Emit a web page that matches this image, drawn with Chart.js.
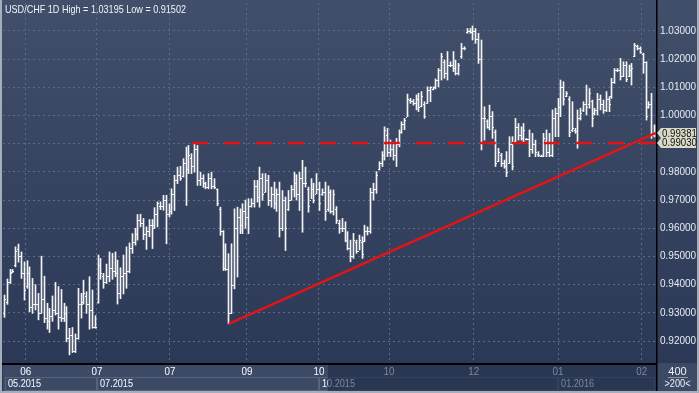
<!DOCTYPE html>
<html>
<head>
<meta charset="utf-8">
<script src="https://cdn.jsdelivr.net/npm/chart.js@4.4.1/dist/chart.umd.min.js"></script>
<style>
  html, body { margin: 0; padding: 0; background: #2b3955; overflow: hidden; }
  canvas { display: block; }
</style>
</head>
<body>
<canvas id="chart" width="699" height="393"></canvas>
<script>
// USD/CHF 1D, values (one entry per daily bar)
const highs = [
  0.9363,0.9420,0.9454,0.9454,0.9534,0.9544,0.9516,0.9481,0.9485,0.9463,0.9422,0.9400,0.9369,0.9501,0.9430,0.9334,0.9316,0.9360,0.9408,0.9393,
  0.9383,0.9334,0.9322,0.9245,0.9248,0.9225,0.9387,0.9369,0.9416,0.9375,0.9428,0.9381,0.9290,0.9505,0.9493,0.9440,0.9473,0.9516,0.9511,0.9516,
  0.9487,0.9460,0.9505,0.9534,0.9548,0.9581,0.9600,0.9649,0.9650,0.9635,0.9605,0.9631,0.9631,0.9673,0.9694,0.9694,0.9717,
  0.9717,0.9687,0.9740,0.9788,0.9817,0.9820,0.9847,0.9888,0.9894,0.9865,0.9900,0.9894,0.9799,0.9790,0.9764,0.9794,0.9799,0.9776,0.9740,0.9675,
  0.9592,0.9545,0.9510,0.9545,0.9669,0.9675,0.9669,0.9687,0.9700,0.9705,0.9705,0.9770,0.9770,0.9817,0.9794,0.9794,0.9788,0.9746,0.9764,0.9740,
  0.9764,0.9734,0.9711,0.9734,0.9752,0.9799,0.9790,0.9799,0.9841,0.9817,0.9746,0.9776,0.9760,0.9794,0.9764,0.9740,0.9764,0.9750,
  0.9736,0.9736,0.9677,0.9629,0.9635,0.9623,0.9588,0.9558,0.9582,0.9558,0.9576,0.9570,0.9611,0.9605,0.9742,0.9760,0.9801,0.9836,0.9872,0.9960,
  0.9955,0.9913,0.9901,0.9919,0.9949,0.9978,0.9990,1.0076,1.0061,1.0057,1.0073,1.0079,1.0085,1.0049,1.0102,1.0102,1.0102,1.0130,1.0167,1.0221,
  1.0197,1.0227,1.0191,1.0227,1.0197,1.0185,1.0256,1.0244,1.0309,1.0309,1.0318,1.0309,1.0292,1.0268,1.0031,0.9985,1.0037,1.0014,
  0.9949,0.9884,0.9866,0.9842,0.9872,0.9925,0.9925,0.9990,0.9972,0.9960,0.9972,0.9919,0.9949,0.9937,0.9913,0.9872,0.9860,0.9937,0.9949,0.9937,
  1.0020,1.0026,1.0061,1.0126,1.0120,1.0085,1.0067,1.0049,0.9955,1.0020,1.0026,1.0049,1.0108,1.0096,1.0055,1.0026,1.0079,1.0073,1.0055,1.0085,
  1.0067,1.0132,1.0167,1.0167,1.0203,1.0191,1.0191,1.0179,1.0185,1.0256,1.0250,1.0244,1.0221,1.0191,1.0049,1.0079,0.9967
];
const lows = [
  0.9284,0.9330,0.9404,0.9442,0.9463,0.9480,0.9422,0.9345,0.9387,0.9304,0.9298,0.9310,0.9275,0.9298,0.9265,0.9242,0.9230,0.9270,0.9292,0.9242,
  0.9269,0.9269,0.9197,0.9151,0.9159,0.9159,0.9206,0.9281,0.9331,0.9298,0.9242,0.9245,0.9245,0.9334,0.9419,0.9387,0.9404,0.9410,0.9419,0.9428,
  0.9331,0.9350,0.9367,0.9387,0.9442,0.9511,0.9540,0.9558,0.9605,0.9560,0.9525,0.9570,0.9528,0.9599,0.9605,0.9666,0.9664,
  0.9545,0.9640,0.9650,0.9663,0.9758,0.9770,0.9782,0.9681,0.9794,0.9794,0.9799,0.9752,0.9752,0.9745,0.9740,0.9740,0.9740,0.9740,0.9680,0.9575,
  0.9450,0.9450,0.9261,0.9297,0.9385,0.9427,0.9581,0.9581,0.9600,0.9581,0.9675,0.9675,0.9693,0.9675,0.9699,0.9728,0.9681,0.9675,0.9669,0.9660,
  0.9569,0.9592,0.9521,0.9663,0.9699,0.9711,0.9700,0.9663,0.9586,0.9746,0.9657,0.9705,0.9690,0.9722,0.9663,0.9717,0.9628,0.9660,
  0.9653,0.9647,0.9617,0.9582,0.9588,0.9552,0.9523,0.9481,0.9493,0.9511,0.9523,0.9493,0.9552,0.9576,0.9582,0.9700,0.9724,0.9807,0.9819,0.9842,
  0.9854,0.9854,0.9842,0.9819,0.9889,0.9937,0.9950,0.9996,1.0043,1.0037,1.0020,1.0014,1.0031,0.9990,1.0043,1.0049,1.0091,1.0095,1.0102,1.0126,
  1.0132,1.0126,1.0173,1.0156,1.0144,1.0144,1.0203,1.0233,1.0292,1.0292,1.0268,1.0256,1.0185,0.9878,0.9913,0.9955,0.9949,0.9919,
  0.9819,0.9836,0.9819,0.9813,0.9783,0.9830,0.9807,0.9901,0.9913,0.9913,0.9901,0.9913,0.9854,0.9866,0.9854,0.9854,0.9854,0.9854,0.9854,0.9854,
  0.9854,0.9925,0.9925,0.9996,1.0037,1.0067,0.9925,0.9943,0.9937,0.9884,0.9984,1.0014,1.0002,1.0026,0.9960,1.0002,1.0002,1.0020,1.0008,1.0014,
  1.0014,1.0061,1.0114,1.0156,1.0126,1.0138,1.0120,1.0138,1.0108,1.0209,1.0233,1.0221,1.0150,0.9984,1.0026,0.9919,0.9924
];
const opens = [
  0.9300,0.9340,0.9410,0.9445,0.9470,0.9525,0.9500,0.9440,0.9395,0.9440,0.9320,0.9330,0.9330,0.9300,0.9350,0.9280,0.9270,0.9290,0.9310,0.9300,
  0.9285,0.9280,0.9300,0.9210,0.9220,0.9165,0.9210,0.9330,0.9340,0.9360,0.9330,0.9310,0.9250,0.9340,0.9470,0.9430,0.9410,0.9430,0.9460,0.9450,
  0.9440,0.9370,0.9430,0.9440,0.9450,0.9530,0.9550,0.9580,0.9630,0.9620,0.9580,0.9590,0.9610,0.9610,0.9650,0.9680,0.9680,
  0.9700,0.9650,0.9660,0.9720,0.9770,0.9790,0.9785,0.9830,0.9810,0.9850,0.9820,0.9880,0.9770,0.9780,0.9760,0.9745,0.9780,0.9750,0.9740,0.9670,
  0.9590,0.9460,0.9455,0.9300,0.9400,0.9600,0.9640,0.9610,0.9660,0.9640,0.9680,0.9690,0.9750,0.9710,0.9780,0.9730,0.9770,0.9700,0.9720,0.9690,
  0.9720,0.9600,0.9700,0.9670,0.9700,0.9740,0.9760,0.9720,0.9780,0.9760,0.9740,0.9700,0.9740,0.9720,0.9740,0.9720,0.9730,0.9670,
  0.9730,0.9660,0.9670,0.9620,0.9600,0.9600,0.9560,0.9530,0.9500,0.9550,0.9520,0.9550,0.9555,0.9590,0.9590,0.9730,0.9740,0.9810,0.9830,0.9860,
  0.9930,0.9870,0.9880,0.9860,0.9900,0.9940,0.9970,0.9996,1.0055,1.0050,1.0045,1.0060,1.0035,1.0040,1.0045,1.0090,1.0095,1.0100,1.0125,1.0160,
  1.0190,1.0150,1.0180,1.0180,1.0170,1.0150,1.0210,1.0240,1.0295,1.0300,1.0295,1.0300,1.0270,1.0200,0.9990,0.9980,0.9960,1.0000,
  0.9940,0.9840,0.9860,0.9830,0.9820,0.9830,0.9900,0.9910,0.9960,0.9930,0.9920,0.9915,0.9915,0.9880,0.9900,0.9865,0.9858,0.9856,0.9910,0.9870,
  0.9860,0.9990,1.0010,1.0030,1.0100,1.0070,1.0060,0.9950,0.9950,0.9945,0.9990,1.0020,1.0040,1.0040,1.0050,1.0010,1.0020,1.0060,1.0040,1.0020,
  1.0060,1.0070,1.0120,1.0160,1.0160,1.0140,1.0180,1.0140,1.0160,1.0210,1.0245,1.0240,1.0220,1.0190,1.0030,1.0040,0.9930
];
const closes = [
  0.9350,0.9410,0.9440,0.9450,0.9520,0.9500,0.9440,0.9380,0.9440,0.9320,0.9330,0.9330,0.9300,0.9350,0.9280,0.9270,0.9290,0.9310,0.9300,0.9285,
  0.9280,0.9300,0.9210,0.9220,0.9165,0.9210,0.9330,0.9330,0.9370,0.9330,0.9310,0.9250,0.9250,0.9470,0.9440,0.9410,0.9430,0.9460,0.9450,0.9440,
  0.9370,0.9430,0.9440,0.9450,0.9530,0.9550,0.9580,0.9630,0.9620,0.9580,0.9590,0.9610,0.9600,0.9650,0.9690,0.9680,0.9700,
  0.9650,0.9660,0.9720,0.9770,0.9790,0.9780,0.9830,0.9810,0.9860,0.9820,0.9880,0.9770,0.9780,0.9760,0.9745,0.9780,0.9750,0.9745,0.9690,0.9590,
  0.9460,0.9455,0.9300,0.9400,0.9600,0.9640,0.9610,0.9660,0.9640,0.9680,0.9690,0.9750,0.9710,0.9780,0.9720,0.9770,0.9700,0.9720,0.9690,0.9720,
  0.9600,0.9700,0.9600,0.9700,0.9740,0.9760,0.9720,0.9780,0.9760,0.9760,0.9680,0.9740,0.9700,0.9740,0.9690,0.9730,0.9660,0.9730,
  0.9660,0.9720,0.9630,0.9600,0.9600,0.9560,0.9530,0.9500,0.9560,0.9520,0.9560,0.9510,0.9590,0.9590,0.9730,0.9740,0.9790,0.9830,0.9860,0.9950,
  0.9870,0.9880,0.9860,0.9900,0.9940,0.9970,0.9985,1.0060,1.0050,1.0045,1.0060,1.0030,1.0070,1.0000,1.0090,1.0100,1.0100,1.0125,1.0160,1.0210,
  1.0150,1.0180,1.0180,1.0170,1.0150,1.0180,1.0240,1.0240,1.0300,1.0295,1.0300,1.0270,1.0200,0.9990,0.9990,0.9960,1.0000,0.9960,
  0.9830,0.9870,0.9830,0.9820,0.9800,0.9900,0.9820,0.9960,0.9930,0.9920,0.9950,0.9915,0.9880,0.9900,0.9870,0.9860,0.9856,0.9920,0.9870,0.9860,
  0.9990,1.0010,1.0030,1.0100,1.0060,1.0080,0.9940,0.9955,0.9945,0.9990,1.0010,1.0040,1.0030,1.0080,0.9990,1.0020,1.0060,1.0040,1.0020,1.0060,
  1.0040,1.0120,1.0160,1.0160,1.0140,1.0180,1.0130,1.0160,1.0170,1.0250,1.0240,1.0225,1.0190,1.0000,1.0040,0.9930,0.99381
];

// price axis ticks
const priceTicks = [0.92, 0.93, 0.94, 0.95, 0.96, 0.97, 0.98, 0.99, 1.00, 1.01, 1.02, 1.03];
// time axis: bar index of each grid line and its label (labels as printed on the chart)
const dayTicks = [7.5, 32.6, 58.3, 85.4, 110.8, 135.5, 165.3, 195.0, 224.5];
const dayLabels = ['06', '07', '07', '09', '10', '10', '12', '01', '02'];
const monthStarts = [-0.5, 32.6, 110.8, 195.0];
const monthLabels = ['05.2015', '07.2015', '10.2015', '01.2016'];

// drawn studies
const supportLevel = 0.99030;
const supportFrom = 66;
const trendFrom = 79;        // the August low bar
const trendFromPrice = 0.9261;
const lastPrice = 0.99381;
const viewEnd = 114;         // end of the highlighted part of the time bar

const N = highs.length;
const RED = '#e41414';
const FONT = '"Liberation Sans", Arial, sans-serif';

// snap the 1px bars to whole pixels, then add open/close ticks
const ohlcTicks = {
  id: 'ohlcTicks',
  beforeDatasetDraw(chart, args) {
    if (args.index !== 0) return;
    args.meta.data.forEach(el => { el.x = Math.floor(el.x) + 0.5; });
  },
  afterDatasetDraw(chart, args) {
    if (args.index !== 0) return;
    const { ctx, scales: { y } } = chart;
    ctx.save();
    ctx.fillStyle = '#f4f4f4';
    args.meta.data.forEach((el, i) => {
      const px = el.x;
      ctx.fillRect(px - 1.5, Math.round(y.getPixelForValue(opens[i])), 1, 1);
      ctx.fillRect(px + 0.5, Math.round(y.getPixelForValue(closes[i])), 1, 1);
    });
    ctx.restore();
  }
};

const frame = {
  id: 'frame',
  beforeDraw(chart) {
    const { ctx, chartArea: a, width } = chart;
    const g = ctx.createLinearGradient(0, 0, 0, a.bottom);
    g.addColorStop(0, '#424f6b');
    g.addColorStop(1, '#2b3956');
    ctx.fillStyle = g;
    ctx.fillRect(0, 0, width, a.bottom);
  },
  afterDraw(chart) {
    const { ctx, chartArea: a, width, height, scales: { x, y } } = chart;
    ctx.save();

    // title
    ctx.font = '11px ' + FONT;
    ctx.fillStyle = '#f2f4f8';
    ctx.textBaseline = 'middle';
    ctx.textAlign = 'left';
    ctx.fillText('USD/CHF 1D High = 1.03195 Low = 0.91502', 5, 10, 181);

    // time bar below the plot
    const top = a.bottom;
    ctx.fillStyle = '#2a3753';
    ctx.fillRect(a.left, top, a.right - a.left, height - top);
    const split = x.getPixelForValue(viewEnd);
    ctx.fillStyle = '#3d4a66';
    ctx.fillRect(a.left, top, split - a.left, height - top);

    const drawTimeBar = (text, box) => {
      ctx.font = '11px ' + FONT;
      ctx.textBaseline = 'middle';
      ctx.strokeStyle = box;
      ctx.lineWidth = 1;
      ctx.fillStyle = text;
      ctx.textAlign = 'center';
      dayTicks.forEach((v, i) => {
        ctx.fillText(dayLabels[i], x.getPixelForValue(v), top + 9, 11);
      });
      ctx.textAlign = 'left';
      monthStarts.forEach((v, i) => {
        const x0 = Math.max(a.left + 2, x.getPixelForValue(v));
        const x1 = i + 1 < monthStarts.length ? x.getPixelForValue(monthStarts[i + 1]) : a.right - 1;
        ctx.strokeRect(Math.round(x0) + 0.5, top + 14.5, Math.round(x1 - x0) - 1, 13);
        ctx.fillText(monthLabels[i], x0 + 3, top + 21, 33);
      });
    };
    drawTimeBar('#7c889e', '#35425e');
    ctx.save();
    ctx.beginPath();
    ctx.rect(0, top, split, height - top);
    ctx.clip();
    drawTimeBar('#e8ecf2', '#56637e');
    ctx.restore();

    // corner box under the price axis
    ctx.fillStyle = '#3d4a66';
    ctx.fillRect(a.right, top, width - a.right, height - top);
    ctx.font = '11px ' + FONT;
    ctx.fillStyle = '#eef1f5';
    ctx.textAlign = 'center';
    ctx.fillText('400', (a.right + width) / 2, top + 9);
    ctx.fillText('>200<', (a.right + width) / 2, top + 21, 26);
    ctx.fillStyle = '#8a96ac';
    ctx.fillRect(a.right + 12, top + 14, 20, 1);

    // separators and outer border
    ctx.fillStyle = '#000000';
    ctx.fillRect(0, a.bottom, a.right, 2);
    ctx.fillRect(a.right, 0, 1.5, height - 2);
    ctx.fillStyle = '#a7aebb';
    ctx.fillRect(0, 0, 2, height);
    ctx.fillRect(0, height - 2, width, 2);
    ctx.fillRect(width - 2, 0, 2, height);

    // price markers
    [lastPrice, supportLevel].forEach(p => {
      const py = y.getPixelForValue(p);
      const bx = a.right + 5;
      ctx.fillStyle = '#d9d9c7';
      ctx.beginPath();
      ctx.moveTo(a.right + 1, py);
      ctx.lineTo(bx, py - 5);
      ctx.lineTo(width - 3, py - 5);
      ctx.lineTo(width - 3, py + 5);
      ctx.lineTo(bx, py + 5);
      ctx.closePath();
      ctx.fill();
      ctx.fillStyle = '#111111';
      ctx.textAlign = 'left';
      ctx.font = '11px ' + FONT;
      ctx.fillText(p.toFixed(5), bx + 1, py + 0.5, 35);
    });
    ctx.restore();
  }
};

new Chart(document.getElementById('chart'), {
  type: 'bar',
  data: {
    datasets: [
      {
        type: 'bar',
        data: lows.map((l, i) => ({ x: i, y: [l, highs[i]] })),
        backgroundColor: '#f4f4f4',
        borderWidth: 0,
        barThickness: 1,
        order: 2
      },
      {
        type: 'line',
        data: [{ x: trendFrom, y: trendFromPrice }, { x: N - 0.5, y: lastPrice }],
        borderColor: RED,
        borderWidth: 2.5,
        pointRadius: 0,
        order: 1
      },
      {
        type: 'line',
        data: [{ x: supportFrom, y: supportLevel }, { x: N - 0.5, y: supportLevel }],
        borderColor: RED,
        borderWidth: 2.5,
        borderDash: [16, 16],
        pointRadius: 0,
        order: 1
      }
    ]
  },
  options: {
    responsive: false,
    animation: false,
    devicePixelRatio: 1,
    layout: { padding: { left: 3, top: 3, right: 0, bottom: 30 } },
    plugins: { legend: { display: false }, tooltip: { enabled: false } },
    scales: {
      x: {
        type: 'linear',
        min: -0.5,
        max: N - 0.5,
        offset: false,
        afterBuildTicks: s => { s.ticks = dayTicks.map(v => ({ value: v })); },
        ticks: { display: false },
        grid: { color: '#5b6b8a', drawTicks: false, offset: false },
        border: { display: false, dash: [2, 3] }
      },
      y: {
        position: 'right',
        min: 0.912194,
        max: 1.039935,
        afterBuildTicks: s => { s.ticks = priceTicks.map(v => ({ value: v })); },
        afterFit: s => { s.width = 43; s.paddingTop = 0; s.paddingBottom = 0; },
        ticks: {
          color: '#e8ecf2',
          padding: 4,
          font: { family: FONT, size: 10 },
          callback: v => Number(v).toFixed(5)
        },
        grid: { color: '#5b6b8a', drawTicks: false },
        border: { display: false, dash: [2, 3] }
      }
    }
  },
  plugins: [ohlcTicks, frame]
});
</script>
</body>
</html>
